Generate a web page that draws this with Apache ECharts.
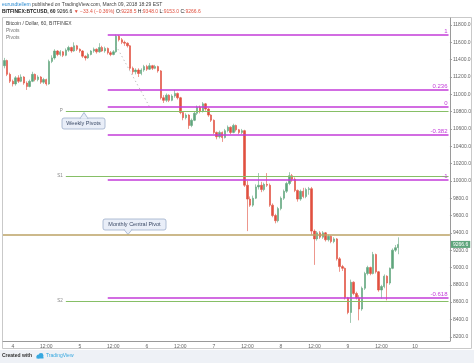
<!DOCTYPE html>
<html><head><meta charset="utf-8">
<script src="https://cdn.jsdelivr.net/npm/echarts@6/dist/echarts.min.js"></script>
<style>html,body{margin:0;padding:0;background:#fff}#c{width:474px;height:363px}</style>
</head><body><div id="c"></div>
<script>
// ---- data ----
const tickLabels = ['4','12:00','5','12:00','6','12:00','7','12:00','8','12:00','9','12:00','10'];
const yTickValues = [8200,8400,8600,8800,9000,9200,9400,9600,9800,10000,10200,10400,10600,10800,11000,11200,11400,11600,11800];
// hourly candles from Mar 3 21:00: [open, close, low, high]
const candles = [
[11330,11390,11300,11420],[11390,11230,11210,11400],[11230,11150,11130,11250],[11150,11120,11090,11170],
[11120,11190,11100,11210],[11190,11150,11130,11220],[11150,11200,11140,11230],[11200,11130,11110,11210],
[11130,11090,11050,11150],[11090,11150,11080,11170],[11150,11230,11140,11260],[11230,11170,11150,11240],
[11170,11200,11150,11220],[11200,11140,11120,11210],[11140,11170,11120,11190],[11170,11120,11100,11180],
[11120,11380,11110,11400],[11380,11420,11360,11450],[11420,11500,11400,11520],[11500,11460,11440,11510],
[11460,11490,11440,11510],[11490,11450,11430,11500],[11450,11510,11440,11530],[11510,11540,11490,11560],
[11540,11500,11480,11550],[11500,11560,11490,11600],[11560,11520,11500,11570],[11520,11500,11480,11530],
[11500,11440,11420,11510],[11440,11420,11390,11450],[11420,11460,11410,11480],[11460,11500,11450,11510],
[11500,11520,11480,11540],[11520,11490,11470,11530],[11490,11540,11480,11590],[11540,11500,11490,11560],
[11500,11530,11480,11550],[11530,11480,11460,11540],[11480,11460,11440,11500],[11460,11490,11450,11510],
[11490,11670,11480,11690],[11670,11630,11610,11685],[11630,11600,11580,11650],[11600,11590,11560,11620],
[11590,11560,11540,11600],[11560,11300,11280,11570],[11300,11260,11230,11320],[11260,11280,11230,11300],
[11280,11240,11200,11300],[11240,11280,11220,11300],[11280,11320,11260,11340],[11320,11290,11270,11340],
[11290,11330,11280,11360],[11330,11300,11280,11340],[11300,11320,11290,11340],[11320,11270,11250,11330],
[11270,10960,10940,11280],[10960,10930,10900,10990],[10930,10990,10910,11010],[10990,10930,10910,11000],
[10930,10980,10920,11000],[10980,11010,10960,11050],[11010,10960,10940,11020],[10960,10790,10770,10970],
[10790,10730,10700,10800],[10730,10760,10710,10780],[10760,10640,10600,10770],[10640,10700,10620,10720],
[10700,10780,10690,10800],[10780,10850,10760,10870],[10850,10800,10780,10870],[10800,10890,10790,10910],
[10890,10830,10810,10900],[10830,10760,10740,10840],[10760,10700,10680,10770],[10700,10560,10540,10710],
[10560,10510,10480,10570],[10510,10560,10490,10580],[10560,10500,10450,10570],[10500,10580,10490,10600],
[10580,10620,10560,10640],[10620,10560,10540,10630],[10560,10640,10550,10660],[10640,10590,10570,10650],
[10590,10560,10540,10600],[10560,10580,10540,10600],[10580,9950,9930,10590],[9950,9790,9420,10000],
[9790,9720,9700,9820],[9720,9800,9700,9830],[9800,9930,9790,9960],[9930,9950,9900,10090],
[9950,9900,9870,9990],[9900,9960,9880,9980],[9960,9950,9930,10090],[9950,9720,9700,9970],
[9720,9600,9580,9740],[9600,9540,9510,9620],[9540,9680,9520,9700],[9680,9800,9660,9820],
[9800,9880,9780,9900],[9880,9970,9860,9990],[9970,10060,9950,10100],[10060,10020,9990,10080],
[10020,9890,9870,10040],[9890,9790,9760,9900],[9790,9880,9770,9900],[9880,9820,9800,9920],
[9820,9900,9800,9920],[9900,9910,9840,9930],[9910,9420,9380,9930],[9420,9330,9030,9440],
[9330,9400,9310,9420],[9400,9350,9330,9420],[9350,9400,9330,9420],[9400,9320,9300,9410],
[9320,9360,9300,9380],[9360,9300,9280,9370],[9300,9330,9280,9350],[9330,9100,9080,9340],
[9100,9010,8950,9120],[9010,8990,8960,9030],[8990,8650,8630,9000],[8650,8480,8460,8660],
[8480,8830,8360,8860],[8830,8700,8680,8840],[8700,8650,8630,8720],[8650,8520,8390,8680],
[8520,8760,8500,8780],[8760,8930,8740,8950],[8930,9000,8910,9020],[9000,8930,8910,9010],
[8930,9150,8920,9180],[9150,8950,8930,9160],[8950,8740,8720,8960],[8740,8780,8640,8800],
[8780,8900,8760,8920],[8900,8820,8620,8910],[8820,8990,8800,9000],[8990,9200,8980,9220],
[9200,9228.5,9180,9260],[9228.5,9266.6,9153,9348]
];
const fibNames = ['1','0.236','0','-0.382','-1','-0.618'];
const fibValues = [11685,11048,10853,10530,10010,8648];
const weeklyNames = ['P','S1','S2'];
const weeklyValues = [10807,10056,8613];
const monthlyPivot = 9375;
const lastPrice = 9266.6;
const trendLine = [[40,11560],[52,10853]];
const fibStartIdx = 37, weeklyStartIdx = 22, totalHours = 160, firstHour = 21, firstDay = 3;

// ---- categories (hourly) ----
const categories = [];
for (let h = 0; h < totalHours; h++) {
  const t = firstHour + h, d = firstDay + Math.floor(t / 24), hr = t % 24;
  categories.push(d + ' ' + String(hr).padStart(2, '0') + ':00');
}
const hourOf = i => (firstHour + i) % 24;
const lastIdx = totalHours - 1;

const FONT = 'Liberation Sans';
const MAG = '#c33bd9', GRN = '#86bf66', GOLD = '#bba264';
const chart = echarts.init(document.getElementById('c'), null, {renderer: 'canvas'});

const markData = [];
fibNames.forEach((n, k) => markData.push([
  {coord: [fibStartIdx, fibValues[k]], name: n, lineStyle: {color: MAG, width: 1.6, type: 'solid'},
   label: {show: true, position: 'insideEndTop', formatter: n, color: MAG, fontSize: 6, fontFamily: FONT, distance: 1}},
  {coord: [lastIdx, fibValues[k]]}
]));
weeklyNames.forEach((n, k) => markData.push([
  {coord: [weeklyStartIdx, weeklyValues[k]], name: n, lineStyle: {color: GRN, width: 1.2, type: 'solid'},
   label: {show: true, position: 'start', formatter: n, color: '#888', fontSize: 4.5, fontFamily: FONT, distance: 3}},
  {coord: [lastIdx, weeklyValues[k]]}
]));
markData.push({yAxis: monthlyPivot, lineStyle: {color: GOLD, width: 1.5, type: 'solid'}, label: {show: false}});
markData.push({yAxis: lastPrice, lineStyle: {color: 'rgba(0,0,0,0)', width: 0, type: 'solid'},
  label: {show: true, position: 'end', formatter: lastPrice.toFixed(1), color: '#fff', backgroundColor: '#5fa57c',
          padding: [1, 2, 1, 2], fontSize: 5, fontFamily: FONT, distance: 1}});

chart.setOption({
  animation: false,
  backgroundColor: '#fff',
  grid: {left: 3, top: 18, width: 449, height: 323},
  xAxis: {
    type: 'category', data: categories, boundaryGap: true,
    axisLine: {lineStyle: {color: '#9a9a9a', width: 1}},
    axisTick: {show: false},
    axisLabel: {
      interval: (i) => hourOf(i) % 12 === 0,
      formatter: (v, i) => tickLabels[Math.round((i - 3) / 12)] || '',
      fontSize: 5, color: '#666', fontFamily: FONT, margin: 3
    },
    splitLine: {show: false}
  },
  yAxis: {
    type: 'value', position: 'right', min: 8151, max: 11881, scale: true,
    axisLine: {show: true, lineStyle: {color: '#9a9a9a', width: 1}},
    axisTick: {show: true, length: 2, customValues: yTickValues, lineStyle: {color: '#9a9a9a'}},
    axisLabel: {customValues: yTickValues, formatter: v => v.toFixed(1), fontSize: 5, color: '#666', fontFamily: FONT, margin: 3},
    splitLine: {show: false}
  },
  series: [
    {
      type: 'candlestick', data: candles.map(r => [r[0], r[1], r[2], r[3]]),
      barWidth: '68%',
      itemStyle: {color: '#5fa57c', color0: '#e0503f', borderColor: '#5fa57c', borderColor0: '#e0503f', borderWidth: 0.6},
      markLine: {silent: true, symbol: 'none', animation: false, lineStyle: {type: 'solid'}, data: markData}
    },
    {
      type: 'line', data: trendLine, symbol: 'none', silent: true,
      lineStyle: {color: '#aaa', width: 1, type: [1, 3]}
    }
  ],
  graphic: [
    {type: 'rect', shape: {x: 2.5, y: 17.5, width: 469, height: 331}, style: {fill: 'none', stroke: '#c9c9c9', lineWidth: 1}, silent: true, z: -1},
    {type: 'rect', shape: {x: 0, y: 350, width: 474, height: 13}, style: {fill: '#eef1f6'}, silent: true},
    {type: 'text', x: 2, y: 2, style: {text: '{u|eurusdtellem} published on TradingView.com, March 09, 2018 18:29 EST',
      font: '5px ' + FONT, fill: '#444', rich: {u: {fill: '#2a8ad0', font: '5px ' + FONT}}}},
    {type: 'text', x: 2, y: 9.5, style: {text: '{b|BITFINEX:BTCUSD, 60} {n|9266.6} {r|▼ −33.4 (−0.36%)} {n|O:}{r|9228.5} {n|H:}{r|9348.0} {n|L:}{r|9153.0} {n|C:}{r|9266.6}',
      font: '5px ' + FONT, fill: '#222',
      rich: {b: {font: 'bold 5px ' + FONT, fill: '#222'}, n: {font: '5px ' + FONT, fill: '#222'}, r: {font: '5px ' + FONT, fill: '#e0503f'}}}},
    {type: 'text', x: 6, y: 21, style: {text: 'Bitcoin / Dollar, 60, BITFINEX', font: '5px ' + FONT, fill: '#444'}},
    {type: 'text', x: 6, y: 28, style: {text: 'Pivots', font: '5px ' + FONT, fill: '#777'}},
    {type: 'text', x: 6, y: 35, style: {text: 'Pivots', font: '5px ' + FONT, fill: '#777'}},
    // Weekly Pivots callout
    {type: 'rect', shape: {x: 62, y: 118, width: 43, height: 11, r: 2}, style: {fill: '#e9eef8', stroke: '#9cadc9', lineWidth: 0.8}},
    {type: 'polygon', shape: {points: [[80, 118.5], [84, 112.5], [88, 118.5]]}, style: {fill: '#e9eef8', stroke: '#9cadc9', lineWidth: 0.8}},
    {type: 'rect', shape: {x: 80.6, y: 117.6, width: 6.8, height: 1.2}, style: {fill: '#e9eef8'}},
    {type: 'text', x: 83.5, y: 123.5, style: {text: 'Weekly Pivots', font: '5.5px ' + FONT, fill: '#3b4a66', align: 'center', verticalAlign: 'middle'}},
    // Monthly Central Pivot callout
    {type: 'rect', shape: {x: 103, y: 219, width: 63, height: 11, r: 2}, style: {fill: '#e9eef8', stroke: '#9cadc9', lineWidth: 0.8}},
    {type: 'polygon', shape: {points: [[124, 229.5], [128, 234.5], [132, 229.5]]}, style: {fill: '#e9eef8', stroke: '#9cadc9', lineWidth: 0.8}},
    {type: 'rect', shape: {x: 124.6, y: 229, width: 6.8, height: 1.2}, style: {fill: '#e9eef8'}},
    {type: 'text', x: 134.5, y: 224.5, style: {text: 'Monthly Central Pivot', font: '5.5px ' + FONT, fill: '#3b4a66', align: 'center', verticalAlign: 'middle'}},
    // footer
    {type: 'text', x: 2, y: 353.5, style: {text: 'Created with', font: 'bold 5px ' + FONT, fill: '#333'}},
    {type: 'circle', shape: {cx: 38.5, cy: 356.5, r: 2}, style: {fill: '#37a8e0'}},
    {type: 'circle', shape: {cx: 41, cy: 355.5, r: 2.4}, style: {fill: '#37a8e0'}},
    {type: 'rect', shape: {x: 36.5, y: 356.5, width: 7, height: 2}, style: {fill: '#37a8e0'}},
    {type: 'text', x: 46, y: 353.5, style: {text: 'TradingView', font: '5px ' + FONT, fill: '#37a8e0'}}
  ]
});
</script></body></html>
